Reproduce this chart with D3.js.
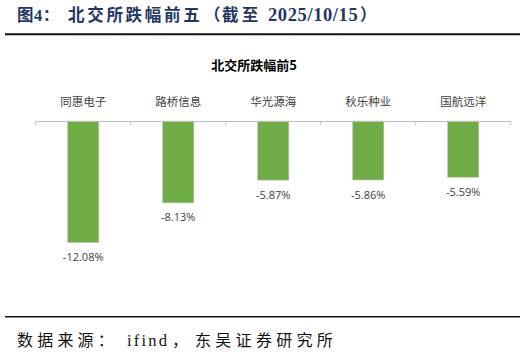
<!DOCTYPE html>
<html><head><meta charset="utf-8">
<script src="https://cdn.jsdelivr.net/npm/d3@7"></script>
<style>body{margin:0;background:#fff}svg{display:block}</style>
</head><body>
<svg id="c" width="526" height="364"></svg>
<script>
const categories = ["同惠电子","路桥信息","华光源海","秋乐种业","国航远洋"];
const values = [-12.08, -8.13, -5.87, -5.86, -5.59];
const valueLabels = ["-12.08%","-8.13%","-5.87%","-5.86%","-5.59%"];

const svg = d3.select("#c");

// header
const hdr = svg.append("text").attr("y",21)
  .attr("font-family","'Liberation Serif','Noto Sans CJK SC',serif")
  .attr("font-weight","bold").attr("font-size",16.5).attr("fill","#1f3864");
[["图4：",17,0.5,16.5],["北交所跌幅前五",68,2.7,16.5],["（",204,0,16.5],["截至",222,3.3,16.5],
 ["2025/10/15",268,0.6,18.5],["）",360,0,16.5]].forEach(([t,x,ls,fs])=>{
  hdr.append("tspan").attr("x",x).attr("letter-spacing",ls).attr("font-size",fs).text(t);
});
svg.append("line").attr("x1",5).attr("x2",520).attr("y1",34.3).attr("y2",34.3)
  .attr("stroke","#111").attr("stroke-width",2);
svg.append("line").attr("x1",5).attr("x2",520).attr("y1",316.7).attr("y2",316.7)
  .attr("stroke","#111").attr("stroke-width",1.5);
const src = svg.append("text").attr("y",346)
  .attr("font-family","'Liberation Serif','Noto Sans CJK SC',serif")
  .attr("font-size",16).attr("fill","#111");
[["数据来源：",17,4.2,16],["ifind",127,2.2,16.5],["，",172,0,16],["东吴证券研究所",195,4.3,16]].forEach(([t,x,ls,fs])=>{
  src.append("tspan").attr("x",x).attr("letter-spacing",ls).attr("font-size",fs).text(t);
});

// chart title
svg.append("text").attr("x",254).attr("y",70).attr("text-anchor","middle")
  .attr("font-family","'Noto Sans CJK SC',sans-serif").attr("font-weight","bold")
  .attr("font-size",13).attr("fill","#000").text("北交所跌幅前5");

const x = d3.scaleBand().domain(categories).range([35.7,510.7]).paddingInner(0.67).paddingOuter(0.335);
const y = d3.scaleLinear().domain([-12.08,0]).range([242.7,121]);

svg.append("g").selectAll("rect").data(values).join("rect")
  .attr("x",(d,i)=>x(categories[i])).attr("width",x.bandwidth())
  .attr("y",y(0)).attr("height",d=>y(d)-y(0))
  .attr("fill","#70ad47").attr("stroke","#c8c8c8").attr("stroke-width",0.6);

const axis = d3.axisTop(x).tickSize(0).tickFormat("");
const ax = svg.append("g").attr("transform",`translate(0,${y(0)})`).call(axis);
ax.select(".domain").attr("stroke","#bfbfbf").attr("stroke-width",1.2);
const step = x.step();
const bounds = d3.range(categories.length+1).map(i=>35.7 + i*step);
svg.append("g").selectAll("line").data(bounds).join("line")
  .attr("x1",d=>d).attr("x2",d=>d).attr("y1",y(0)).attr("y2",y(0)+4)
  .attr("stroke","#bfbfbf").attr("stroke-width",1);

svg.append("g").selectAll("text").data(categories).join("text")
  .attr("x",d=>x(d)+x.bandwidth()/2).attr("y",106).attr("text-anchor","middle")
  .attr("font-family","'Noto Sans CJK SC',sans-serif").attr("font-size",11.5).attr("fill","#404040")
  .text(d=>d);

svg.append("g").selectAll("text").data(values).join("text")
  .attr("x",(d,i)=>x(categories[i])+x.bandwidth()/2).attr("y",d=>y(d)+18.5).attr("text-anchor","middle")
  .attr("font-family","'Open Sans',sans-serif").attr("font-size",11).attr("fill","#404040")
  .text((d,i)=>valueLabels[i]);
</script>
</body></html>
